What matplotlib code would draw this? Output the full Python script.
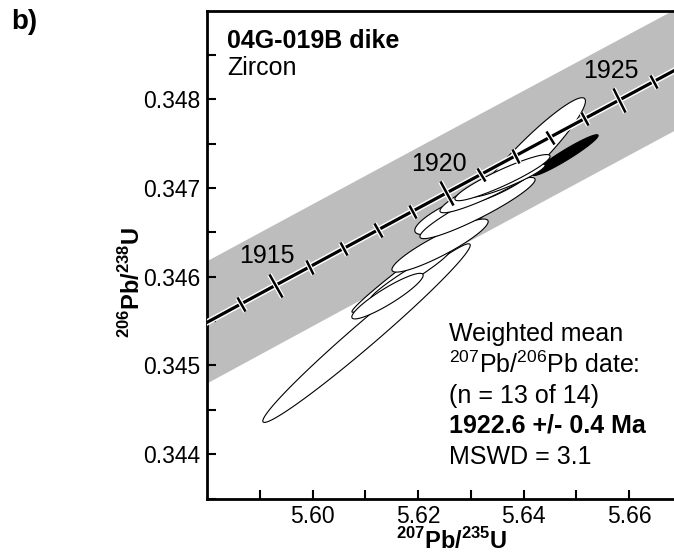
import numpy as np
import matplotlib.pyplot as plt
import matplotlib.patheffects as pe
from matplotlib.markers import MarkerStyle
from matplotlib.transforms import Affine2D

plt.rcParams['font.family'] = ['Liberation Sans', 'DejaVu Sans']
plt.rcParams['mathtext.fontset'] = 'custom'
plt.rcParams['mathtext.rm'] = 'Liberation Sans'
plt.rcParams['mathtext.bf'] = 'Liberation Sans:bold'

# decay constants (1/yr)
lam238 = 1.55125e-10
lam235 = 9.8485e-10

# concordia ages (Ma), tick ages and labelled ages
curve_ages = list(range(1905, 1936))
tick_ages = list(range(1914, 1927))
label_ages = [1915, 1920, 1925]
band_dx = 0.0214   # half width of decay-constant band in 207Pb/235U

# zircon analyses: 207Pb/235U, 206Pb/238U, 2s half extents and rho
pb207_u235 = [5.61021, 5.62008, 5.61846, 5.61419, 5.62416, 5.64076, 5.64797,
              5.62843, 5.62795, 5.63127, 5.63507, 5.63412, 5.63696, 5.63601]
pb206_u238 = [0.345365, 0.346166, 0.346019, 0.345782, 0.346352, 0.347355, 0.347372,
              0.346713, 0.346735, 0.346775, 0.347056, 0.347023, 0.347085, 0.347118]
err_207 = [0.01968, 0.01264, 0.00761, 0.00677, 0.00913, 0.01099, 0.00619,
           0.00713, 0.00858, 0.01093, 0.00753, 0.00998, 0.00713, 0.00903]
err_206 = [0.001007, 0.000566, 0.000287, 0.000257, 0.000299, 0.000664, 0.000230,
           0.000218, 0.000259, 0.000345, 0.000239, 0.000301, 0.000186, 0.000260]
rho = [0.984, 0.989, 0.961, 0.912, 0.904, 0.942, 0.958,
       0.938, 0.817, 0.930, 0.850, 0.927, 0.920, 0.924]
excluded = [False, False, False, False, False, False, True,
            False, False, False, False, False, False, False]


def concordia(age_ma):
    t = np.asarray(age_ma, dtype=float) * 1e6
    return np.exp(lam235 * t) - 1, np.exp(lam238 * t) - 1


fig = plt.figure(figsize=(6.74, 5.56), dpi=100)
ax = fig.add_axes([0.3076, 0.1034, 0.7037, 0.8773])
ax.set_xlim(5.58, 5.67)
ax.set_ylim(0.3435, 0.349)

# decay constant uncertainty band
cx, cy = concordia(curve_ages)
ax.fill(np.concatenate([cx - band_dx, (cx + band_dx)[::-1]]),
        np.concatenate([cy, cy[::-1]]), color='#bdbdbd', lw=0, zorder=1)

# error ellipses
th = np.linspace(0, 2 * np.pi, 200)
for i in range(len(pb207_u235)):
    ex = pb207_u235[i] + err_207[i] * np.cos(th)
    ey = pb206_u238[i] + err_206[i] * (rho[i] * np.cos(th) + np.sqrt(1 - rho[i] ** 2) * np.sin(th))
    ax.fill(ex, ey, facecolor='black' if excluded[i] else 'white',
            edgecolor='black', lw=0.8, zorder=2)

# concordia
halo = [pe.Stroke(linewidth=4.4, foreground='white'), pe.Normal()]
ax.plot(cx, cy, color='black', lw=2.3, zorder=3, path_effects=halo)

for age in tick_ages:
    tx, ty = concordia([age - 0.1, age, age + 0.1])
    p = ax.transData.transform(np.column_stack([tx, ty]))
    ang = np.degrees(np.arctan2(p[2, 1] - p[0, 1], p[2, 0] - p[0, 0]))
    big = age in label_ages
    ms = 19.5 if big else 11
    ax.plot([tx[1]], [ty[1]], ls='none', color='black', zorder=4,
            marker=MarkerStyle('|', transform=Affine2D().rotate_deg(ang)),
            markersize=ms, markeredgewidth=1.8,
            path_effects=[pe.Stroke(linewidth=3.6, foreground='white'), pe.Normal()])
    if big:
        ax.annotate(str(age), (tx[1], ty[1]), xytext=(-8, 29), textcoords='offset pixels',
                    ha='center', va='center', fontsize=18, zorder=5)

# axes styling
ax.set_xticks([5.60, 5.62, 5.64, 5.66])
ax.set_xticks([5.59, 5.61, 5.63, 5.65, 5.67], minor=True)
ax.set_yticks([0.344, 0.345, 0.346, 0.347, 0.348])
ax.set_yticks([0.3435, 0.3445, 0.3455, 0.3465, 0.3475, 0.3485], minor=True)
ax.set_xticklabels(['5.60', '5.62', '5.64', '5.66'])
ax.set_yticklabels(['0.344', '0.345', '0.346', '0.347', '0.348'])
ax.tick_params(which='both', direction='in', length=6.5, width=1.5,
               labelsize=16.5, pad=5)
for s in ax.spines.values():
    s.set_linewidth(2)

ax.set_xlabel(r'$^{\mathbf{207}}$Pb/$^{\mathbf{235}}$U', fontsize=17, fontweight='bold')
ax.set_ylabel(r'$^{\mathbf{206}}$Pb/$^{\mathbf{238}}$U', fontsize=17, fontweight='bold')
ax.xaxis.set_label_coords(0.516, -0.06)
ax.yaxis.set_label_coords(-0.131, 0.443)

ax.text(0.041, 0.923, '04G-019B dike', transform=ax.transAxes, fontsize=18,
        fontweight='bold', va='baseline')
ax.text(0.041, 0.868, 'Zircon', transform=ax.transAxes, fontsize=18, va='baseline')

lines = ['Weighted mean', r'$^{207}$Pb/$^{206}$Pb date:', '(n = 13 of 14)',
         '1922.6 +/- 0.4 Ma', 'MSWD = 3.1']
ys = [0.323, 0.258, 0.196, 0.135, 0.071]
for txt, yy in zip(lines, ys):
    ax.text(0.51, yy, txt, transform=ax.transAxes, fontsize=18, va='baseline',
            fontweight='bold' if 'Ma' in txt else 'normal')

fig.text(0.016, 0.948, 'b)', fontsize=20, fontweight='bold', va='baseline')

fig.savefig('out.png', dpi=100)
